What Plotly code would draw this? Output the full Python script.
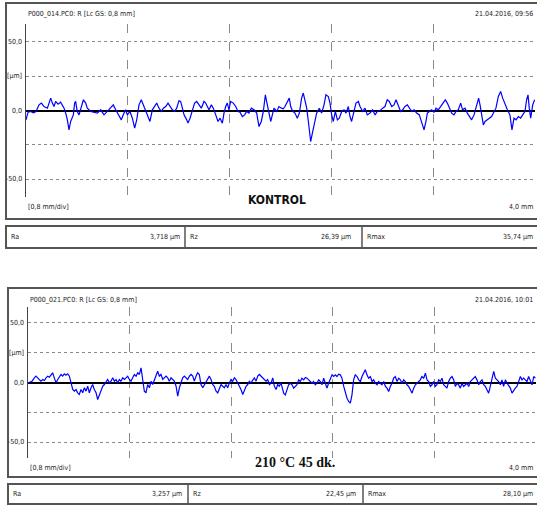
import plotly.graph_objects as go

W, H = 537, 507

# ---------------- data ----------------
# Panel 1 (KONTROL): profile position [mm] and height [µm]
p1_x = [0.000, 0.016, 0.037, 0.058, 0.079, 0.102, 0.121, 0.142, 0.168, 0.194, 0.207, 0.220, 0.233, 0.252, 0.272,
        0.286, 0.299, 0.312, 0.325, 0.338, 0.351, 0.372, 0.382, 0.390, 0.403, 0.417, 0.430, 0.451, 0.469, 0.482,
        0.508, 0.534, 0.561, 0.587, 0.613, 0.639, 0.665, 0.686, 0.705, 0.731, 0.749, 0.770, 0.783, 0.796, 0.817,
        0.836, 0.854, 0.870, 0.888, 0.906, 0.922, 0.940, 0.959, 0.974, 0.993, 1.011, 1.027, 1.045, 1.064, 1.079,
        1.098, 1.116, 1.137, 1.150, 1.168, 1.184, 1.202, 1.215, 1.229, 1.242, 1.263, 1.273, 1.289, 1.307, 1.325,
        1.341, 1.360, 1.378, 1.399, 1.412, 1.425, 1.438, 1.457, 1.472, 1.491, 1.509, 1.525, 1.543, 1.556, 1.569,
        1.582, 1.595, 1.608, 1.629, 1.648, 1.666, 1.682, 1.700, 1.718, 1.734, 1.752, 1.771, 1.792, 1.813, 1.831,
        1.849, 1.865, 1.881, 1.891, 1.910, 1.923, 1.936, 1.949, 1.970, 1.988, 2.007,
        2.022, 2.035, 2.054, 2.069, 2.080, 2.096, 2.114, 2.132, 2.148, 2.166, 2.179, 2.192, 2.206, 2.219, 2.237,
        2.253, 2.268, 2.284, 2.305, 2.323, 2.342, 2.357, 2.376, 2.389, 2.402, 2.415, 2.431, 2.447, 2.462, 2.481,
        2.499, 2.515, 2.533, 2.546, 2.559, 2.578, 2.593, 2.612, 2.625, 2.646, 2.664, 2.682, 2.703, 2.724, 2.743,
        2.761, 2.782, 2.803, 2.821, 2.839, 2.855, 2.874, 2.892, 2.908, 2.926, 2.944, 2.960, 2.978, 2.997, 3.012,
        3.031, 3.049, 3.070, 3.091, 3.109, 3.128, 3.143, 3.154, 3.170, 3.188, 3.206, 3.222, 3.240, 3.259, 3.280,
        3.295, 3.311, 3.327, 3.345, 3.363, 3.379, 3.397, 3.416, 3.431, 3.450, 3.468, 3.484, 3.502, 3.521, 3.541,
        3.557, 3.568, 3.581, 3.594, 3.607, 3.620, 3.641, 3.659, 3.678, 3.693, 3.712, 3.730, 3.746, 3.764, 3.783,
        3.803, 3.819, 3.835, 3.851, 3.869, 3.887, 3.903, 3.921, 3.934, 3.945, 3.955, 3.966, 3.982, 3.997]
p1_z = [-6.8, -1.2, -0.7, -1.7, -0.7, 4.1, 5.4, 2.9, 1.7, 9.0, 5.4, 2.9, 6.6, 4.6, 6.1,
        4.1, 1.7, -1.9, -6.8, -14.1, -8.0, -3.2, 5.4, 6.6, -0.7, -3.2, 1.7, 7.8, 5.4, 1.7,
        -0.7, -1.2, -1.9, 0.5, -3.2, -0.7, 1.7, 4.1, 0.5, -4.4, -6.8, -1.9, 0.5, -3.2, -0.7,
        -5.6, -12.9, -6.8, 4.1, 7.8, 4.1, -0.7, -4.4, -8.0, 0.5, 2.9, 5.4, 1.7, -0.7, 1.7,
        2.9, 5.4, 2.9, 0.5, -0.7, 1.7, 7.1, 6.6, 1.7, -3.2, -6.8, -9.2, -5.6, -0.7, 5.4,
        6.6, 4.1, 1.7, 6.6, 5.4, 2.9, 0.5, 4.1, 1.7, -3.2, -8.0, -5.6, -9.2, -1.9, 2.9,
        5.4, 0.5, 6.6, 5.4, 2.9, -0.7, -1.2, -4.4, -3.2, -0.7, -1.9, 1.7, 0.5, -1.9, -11.7,
        -8.0, -0.7, 11.4, 6.6, -1.9, -8.0, -3.2, 1.7, -0.7, 2.9, 1.7,
        1.2, 2.9, 6.6, 9.0, 2.9, -0.7, -1.9, -5.6, -1.9, 9.0, 12.7, 7.8, 1.7, -8.0, -22.6,
        -15.3, -8.0, -1.9, 1.7, -1.9, 4.1, 11.4, 10.2, 5.4, -3.2, -8.0, -0.7, -6.8, -5.6, -0.7,
        0.5, -1.9, 2.9, -4.4, -8.0, 0.5, 5.4, 6.6, 2.9, -0.7, 1.7, -3.2, -1.9, 0.5, -3.2,
        -0.7, -0.2, 1.7, 2.9, 7.8, 6.6, 2.9, 4.1, 7.8, 4.1, -0.7, 0.5, 2.9, 4.1, 1.7,
        -0.7, 0.5, -1.9, -3.2, -8.0, -14.1, -8.0, -1.9, -0.7, 0.5, -1.2, 1.7, 0.5, 2.9, 5.4,
        7.8, 5.4, 1.7, -1.9, -3.2, -0.7, 0.5, 5.4, 0.5, 1.7, -1.9, -4.4, -6.8, -3.2, 2.9,
        9.0, 4.1, -4.4, -10.5, -8.0, -6.8, -5.6, -4.4, -0.7, 1.7, 10.2, 13.9, 9.0, 4.1, 0.5,
        -3.2, -14.1, -5.6, -6.8, -4.4, -5.6, -3.2, -0.7, 7.8, 11.4, 1.7, -5.6, 4.1, 7.8]

# Panel 2 (210 °C 45 dk.): profile position [mm] and height [µm]
p2_x = [0.000, 0.016, 0.032, 0.050, 0.063, 0.076, 0.089, 0.102, 0.116, 0.129, 0.142, 0.155, 0.168, 0.181, 0.194,
        0.207, 0.221, 0.234, 0.247, 0.260, 0.273, 0.286, 0.299, 0.312, 0.326, 0.339, 0.352, 0.365, 0.378, 0.391,
        0.404, 0.417, 0.431, 0.444, 0.457, 0.470, 0.483, 0.496, 0.509, 0.522, 0.536, 0.549, 0.562, 0.575, 0.588,
        0.601, 0.614, 0.627, 0.641, 0.654, 0.667, 0.680, 0.693, 0.706, 0.719, 0.732, 0.746, 0.759, 0.772, 0.785,
        0.798, 0.811, 0.824, 0.837, 0.851, 0.864, 0.877, 0.890, 0.903, 0.916, 0.929, 0.942, 0.956, 0.969, 0.982,
        0.995, 1.008, 1.021, 1.034, 1.047, 1.061, 1.074, 1.087, 1.100, 1.113, 1.126, 1.139, 1.152, 1.166, 1.179,
        1.192, 1.205, 1.218, 1.231, 1.244, 1.257, 1.271, 1.284, 1.297, 1.310, 1.323, 1.336, 1.349, 1.362, 1.376,
        1.389, 1.402, 1.415, 1.428, 1.441, 1.454, 1.467, 1.481, 1.494, 1.507, 1.520, 1.533, 1.546, 1.559, 1.572,
        1.586, 1.599, 1.612, 1.625, 1.638, 1.651, 1.664, 1.677, 1.691, 1.704, 1.717, 1.730, 1.743, 1.756, 1.769,
        1.782, 1.796, 1.809, 1.822, 1.835, 1.848, 1.861, 1.874, 1.887, 1.901, 1.914, 1.927, 1.940, 1.953, 1.966,
        1.979, 1.992,
        2.000, 2.013, 2.026, 2.039, 2.052, 2.066, 2.079, 2.092, 2.105, 2.118, 2.131, 2.144, 2.157, 2.171, 2.184,
        2.197, 2.210, 2.223, 2.236, 2.249, 2.262, 2.276, 2.289, 2.302, 2.315, 2.328, 2.341, 2.354, 2.367, 2.381,
        2.394, 2.407, 2.420, 2.433, 2.446, 2.459, 2.472, 2.486, 2.499, 2.512, 2.525, 2.538, 2.551, 2.564, 2.577,
        2.591, 2.604, 2.617, 2.630, 2.643, 2.656, 2.669, 2.682, 2.696, 2.709, 2.722, 2.735, 2.748, 2.761, 2.774,
        2.787, 2.801, 2.814, 2.827, 2.840, 2.853, 2.866, 2.879, 2.892, 2.906, 2.919, 2.932, 2.945, 2.958, 2.971,
        2.984, 2.997, 3.011, 3.024, 3.037, 3.050, 3.063, 3.076, 3.089, 3.102, 3.116, 3.129, 3.142, 3.155, 3.168,
        3.181, 3.194, 3.207, 3.220, 3.234, 3.247, 3.260, 3.273, 3.286, 3.299, 3.312, 3.325, 3.339, 3.352, 3.365,
        3.378, 3.391, 3.404, 3.417, 3.430, 3.444, 3.457, 3.470, 3.483, 3.496, 3.509, 3.522, 3.535, 3.549, 3.562,
        3.575, 3.588, 3.601, 3.614, 3.627, 3.640, 3.654, 3.667, 3.680, 3.693, 3.706, 3.719, 3.732, 3.745, 3.759,
        3.772, 3.785, 3.798, 3.811, 3.824, 3.837, 3.850, 3.864, 3.877, 3.890, 3.903, 3.916, 3.929, 3.942, 3.955,
        3.969, 3.982, 3.995]
p2_z = [-0.3, 0.6, 1.1, 3.9, 5.3, 3.9, 2.5, 1.1, 2.5, 1.7, 3.9, 5.3, 4.4, 6.7, 8.1,
        3.9, -0.3, 2.5, 5.3, 6.7, 5.3, 7.2, 6.1, 7.2, 5.3, -1.7, -5.8, -7.2, -5.8, -8.6,
        -10.0, -5.8, -8.6, -4.4, -7.2, -3.1, -8.6, -4.4, -1.7, -5.8, -8.6, -14.2, -10.0, -7.2, -3.1,
        -1.7, 1.1, 2.5, -0.3, 1.1, 3.9, 1.1, 2.5, -0.3, 2.5, 1.1, 3.9, 2.5, 3.9, 5.3,
        2.5, 1.1, 3.9, 6.7, 5.3, 8.1, 6.7, 12.2, 2.5, -7.2, -8.6, -1.7, -4.4, 1.1, -1.7,
        2.5, 5.3, 9.4, 5.3, 6.7, 2.5, 4.4, 5.3, 3.9, 1.1, 3.9, 2.5, 1.1, -3.1, -11.4,
        -4.4, -0.3, 3.9, 5.3, 3.9, 2.5, 5.3, 6.7, 5.3, 1.1, 5.3, 8.1, 6.7, -1.7, -4.4,
        -1.7, -0.3, 2.5, 5.3, 2.5, -1.7, -3.1, -7.2, -8.6, -4.4, -1.7, -3.1, -4.4, -1.7, -4.4,
        -0.3, 2.5, 1.1, 3.9, 2.5, -0.3, -1.7, -5.8, -10.0, -5.8, -3.1, -1.7, 1.1, -0.3, 2.5,
        3.9, 1.1, 5.3, 6.7, 5.3, 3.9, 2.5, 1.1, 2.5, -1.7, -0.3, 3.9, -3.1, -5.8, -1.7,
        -3.1, -0.3,
        -4.7, -8.9, -10.3, -6.1, -1.9, -0.6, -1.9, -4.7, -3.3, -1.9, 2.2, 0.8, 3.6, 2.2, 4.2,
        3.6, 2.2, 0.8, -0.6, 0.8, -1.9, -0.6, 2.2, 0.8, -1.9, 3.6, -0.6, -4.7, -0.6, 3.6,
        6.4, 5.0, 6.4, 5.0, 6.9, 6.4, 3.6, -3.3, -8.9, -13.1, -15.8, -17.2, -10.3, 2.2, 6.4,
        5.0, 2.2, 0.8, 5.0, 7.8, 10.6, 6.4, 3.6, 5.0, 0.8, 2.2, -0.6, -1.9, 0.8, -0.6,
        -1.9, 0.8, -3.3, -4.7, -7.5, -3.3, -0.6, 3.6, 5.0, 0.8, 3.6, 2.2, -0.6, 2.2, 0.8,
        -1.9, -3.3, -6.1, -8.9, -4.7, -1.9, -0.6, 0.8, 2.2, 5.0, 3.6, 7.8, 2.2, 0.8, -3.3,
        -1.9, 0.8, -3.3, -1.9, 2.2, 0.8, 3.6, -1.9, -3.3, -4.7, 0.8, 3.6, 5.0, 2.2, -3.3,
        -0.6, -1.9, -4.7, -0.6, -3.3, -1.9, -0.6, -3.3, 0.8, 2.2, 3.6, 5.0, 2.2, -1.9, 0.8,
        2.2, -1.9, -3.3, -6.1, -8.9, -3.3, 3.6, 9.2, 3.6, 2.2, 0.8, -1.9, 2.2, -3.3, 2.2,
        -0.6, -3.3, -4.7, -8.9, -6.1, -4.7, -3.3, 0.8, 5.0, 2.2, 3.6, 2.2, 0.8, 5.0, 2.2,
        -1.9, 5.0, 3.6]

y_gridvals = [50, 25, 0, -25, -50]
y_labelvals = [50, 25, 0, -50]
y_labeltext = ["50,0", "[µm]", "0,0", "\u201150,0"]
x_gridvals = [0.8, 1.6, 2.4, 3.2, 4.0]

titles = ["P000_014.PC0: R [Lc GS: 0,8 mm]", "P000_021.PC0: R [Lc GS: 0,8 mm]"]
dates = ["21.04.2016, 09:56", "21.04.2016, 10:01"]
captions = ["KONTROL", "210 °C 45 dk."]
stat_names = ["Ra", "Rz", "Rmax"]
stats1 = ["3,718 µm", "26,39 µm", "35,74 µm"]
stats2 = ["3,257 µm", "22,45 µm", "28,10 µm"]

# ---------------- layout helpers ----------------
def px(x):
    return x / W

def py(y):
    return 1 - y / H

NARROW = "DejaVu Sans Condensed, Liberation Sans Narrow, Arial Narrow, sans-serif"
SMALL = 7
TXT = "#222222"
FRAME = "#555555"

fig = go.Figure()
fig.add_trace(go.Scatter(x=p1_x, y=p1_z, mode="lines", line=dict(color="#0000ff", width=1.2),
                         xaxis="x", yaxis="y", hoverinfo="skip"))
fig.add_trace(go.Scatter(x=p2_x, y=p2_z, mode="lines", line=dict(color="#0000ff", width=1.2),
                         xaxis="x2", yaxis="y2", hoverinfo="skip"))

panels = [
    dict(pl=26, pr=535, pt=24, pb=197, fl=6, ft=3, fb=219, st=226, sb=248, div=(185, 362),
         title_y=14, bottom_y=207, cap_x=277, cap_y=200, name_x=(9, 188, 365), val_x=(182, 353, 535)),
    dict(pl=28, pr=536, pt=307, pb=458, fl=8, ft=288, fb=477, st=484, sb=504, div=(188, 363),
         title_y=300, bottom_y=468, cap_x=295, cap_y=462, name_x=(11, 191, 366), val_x=(184, 358, 535)),
]

axis_common_x = dict(range=[0, 4.0], showticklabels=False, tickvals=x_gridvals, showgrid=True,
                     gridcolor="#8a8a8a", griddash="dash", gridwidth=1, zeroline=False, showline=False,
                     ticks="", fixedrange=True)
axis_common_y = dict(range=[-63, 63], tickvals=y_gridvals, showticklabels=False, showgrid=True,
                     gridcolor="#8a8a8a", griddash="dot", gridwidth=1, zeroline=True, zerolinecolor="#000000",
                     zerolinewidth=2, showline=True, linecolor="#444444", linewidth=1, ticks="",
                     fixedrange=True)

shapes = []
annotations = []
for i, (p, stats) in enumerate(zip(panels, [stats1, stats2])):
    sfx = "" if i == 0 else "2"
    fig.layout["xaxis" + sfx] = dict(axis_common_x, domain=[px(p["pl"]), px(p["pr"])],
                                     anchor="y" + sfx)
    fig.layout["yaxis" + sfx] = dict(axis_common_y, domain=[py(p["pb"]), py(p["pt"])],
                                     anchor="x" + sfx)
    # y labels (data coordinates of the y axis)
    for v, t in zip(y_labelvals, y_labeltext):
        annotations.append(dict(text=t, xref="paper", yref="y" + sfx, x=px(p["pl"] - 2), y=v,
                                xanchor="right", yanchor="middle",
                                font=dict(family=NARROW, size=SMALL, color=TXT)))
    # panel frame
    shapes.append(dict(type="rect", xref="paper", yref="paper", x0=px(p["fl"]), x1=px(W + 5),
                       y0=py(p["fb"]), y1=py(p["ft"]), line=dict(color=FRAME, width=2)))
    # stats box
    shapes.append(dict(type="rect", xref="paper", yref="paper", x0=px(p["fl"]), x1=px(W + 5),
                       y0=py(p["sb"]), y1=py(p["st"]), line=dict(color=FRAME, width=2)))
    for d in p["div"]:
        shapes.append(dict(type="line", xref="paper", yref="paper", x0=px(d), x1=px(d),
                           y0=py(p["sb"]), y1=py(p["st"]), line=dict(color=FRAME, width=1.5)))
    # header texts
    annotations.append(dict(text=titles[i], x=px(p["pl"]), y=py(p["title_y"]), xanchor="left",
                            yanchor="middle", font=dict(family=NARROW, size=SMALL, color=TXT)))
    annotations.append(dict(text=dates[i], x=px(535), y=py(p["title_y"]), xanchor="right",
                            yanchor="middle", font=dict(family=NARROW, size=SMALL, color=TXT)))
    # footer texts
    annotations.append(dict(text="[0,8 mm/div]", x=px(p["pl"]), y=py(p["bottom_y"]), xanchor="left",
                            yanchor="middle", font=dict(family=NARROW, size=SMALL, color=TXT)))
    annotations.append(dict(text="4,0 mm", x=px(535), y=py(p["bottom_y"]), xanchor="right",
                            yanchor="middle", font=dict(family=NARROW, size=SMALL, color=TXT)))
    if i == 0:
        capfont = dict(family=NARROW, size=12, color="#111111")
    else:
        capfont = dict(family="Liberation Serif, Times New Roman, serif", size=14, color="#111111")
    annotations.append(dict(text="<b>%s</b>" % captions[i], x=px(p["cap_x"]), y=py(p["cap_y"]),
                            xanchor="center", yanchor="middle", font=capfont))
    # stats
    ymid = py((p["st"] + p["sb"]) / 2)
    for name, nx, val, vx in zip(stat_names, p["name_x"], stats, p["val_x"]):
        annotations.append(dict(text=name, x=px(nx), y=ymid, xanchor="left", yanchor="middle",
                                font=dict(family=NARROW, size=SMALL, color=TXT)))
        annotations.append(dict(text=val, x=px(vx), y=ymid, xanchor="right", yanchor="middle",
                                font=dict(family=NARROW, size=SMALL, color=TXT)))

for a in annotations:
    a.setdefault("xref", "paper")
    a.setdefault("yref", "paper")
    a.update(showarrow=False)

fig.update_layout(width=W, height=H, margin=dict(l=0, r=0, t=0, b=0), showlegend=False,
                  paper_bgcolor="white", plot_bgcolor="white", shapes=shapes, annotations=annotations)

fig.write_html("out.html", config={"displayModeBar": False},
               post_script="document.body.style.margin='0';document.body.style.overflow='hidden';")
